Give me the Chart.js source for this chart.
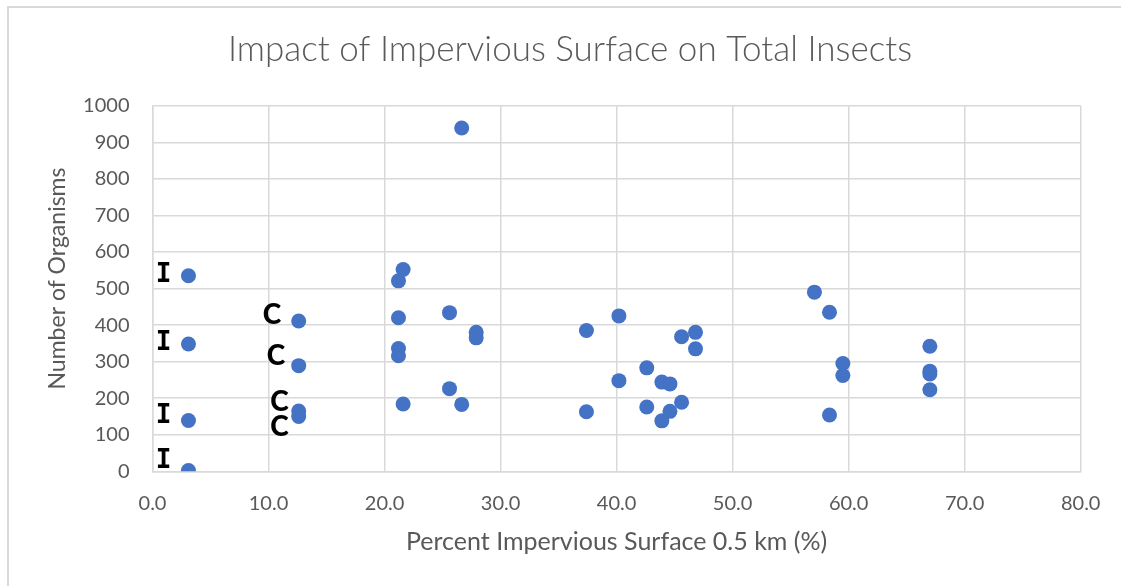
<!DOCTYPE html>
<html>
<head>
<meta charset="utf-8">
<title>Impact of Impervious Surface on Total Insects</title>
<script src="https://cdn.jsdelivr.net/npm/chart.js@4/dist/chart.umd.min.js"></script>
<style>
  html, body { margin: 0; padding: 0; background: #ffffff; }
  #wrap { position: relative; width: 1121px; height: 586px; overflow: hidden; }
  #frame {
    position: absolute; left: 7px; top: 6px; width: 1200px; height: 700px;
    border-left: 2px solid #d9d9d9; border-top: 2px solid #d9d9d9;
  }
  canvas { position: absolute; left: 0; top: 0; }
</style>
</head>
<body>
<div id="wrap">
  <div id="frame"></div>
  <canvas id="chart" width="1121" height="586"></canvas>
</div>
<script>
// Site measurements: impervious surface cover (%) and total insects counted
const imperviousPct = [
  3.1, 3.1, 3.1, 3.1,
  12.6, 12.6, 12.6, 12.6,
  21.2, 21.6, 21.2, 21.2, 21.2, 21.6,
  25.6, 25.6, 26.65, 26.65, 27.9, 27.9,
  37.4, 37.4, 40.2, 40.2, 42.6, 42.6, 43.9, 44.6, 45.6, 44.6, 43.9, 45.6, 46.8, 46.8,
  57.05, 58.35, 59.5, 59.5, 58.35,
  67.0, 67.0, 67.0, 67.0
];
const totalInsects = [
  535, 348, 139, 2,
  411, 289, 165, 150,
  521, 552, 420, 336, 316, 184,
  434, 226, 183, 939, 380, 365,
  385, 163, 425, 248, 283, 176, 244, 239, 189, 164, 138, 368, 380, 335,
  490, 435, 295, 262, 154,
  342, 274, 266, 223
];

// Site-type markers written next to the low-cover sites
const markerText = ['I', 'I', 'I', 'I', 'C', 'C', 'C', 'C'];
const markerX = [0.95, 0.95, 0.95, 0.95, 10.3, 10.65, 10.95, 10.95];
const markerY = [537, 350, 150, 27, 428, 316, 190, 120];

// Axis tick labels
const xTickLabels = ['0.0', '10.0', '20.0', '30.0', '40.0', '50.0', '60.0', '70.0', '80.0'];
const yTickLabels = ['0', '100', '200', '300', '400', '500', '600', '700', '800', '900', '1000'];

const chartTitle = 'Impact of Impervious Surface on Total Insects';
const yAxisTitle = 'Number of Organisms';
const xAxisTitle = 'Percent Impervious Surface 0.5 km (%)';

const points = imperviousPct.map((x, i) => ({ x: x, y: totalInsects[i] }));

const textGray = '#595959';
const gridGray = '#d9d9d9';

// Slab-serif face for "I", heavy sans for "C"
const markerFonts = {
  I: 'bold 26px "DejaVu Sans Mono"',
  C: '900 28px Lato'
};

// Chart heading (centred on the outer frame) and the vertical axis caption
const headingPlugin = {
  id: 'headings',
  afterDraw(chart) {
    const ctx = chart.ctx;
    const area = chart.chartArea;
    ctx.save();
    ctx.fillStyle = textGray;
    ctx.textAlign = 'center';
    ctx.textBaseline = 'middle';
    ctx.font = '300 35px Lato';
    ctx.fillText(chartTitle, 570, 50);
    ctx.translate(58, (area.top + area.bottom) / 2 - 10);
    ctx.rotate(-Math.PI / 2);
    ctx.font = '23px Lato';
    ctx.fillText(yAxisTitle, 0, 0);
    ctx.restore();
  }
};

const markerPlugin = {
  id: 'siteMarkers',
  afterDatasetsDraw(chart) {
    const ctx = chart.ctx;
    const xs = chart.scales.x, ys = chart.scales.y;
    ctx.save();
    ctx.fillStyle = '#000000';
    ctx.textAlign = 'center';
    ctx.textBaseline = 'middle';
    markerText.forEach((t, i) => {
      ctx.font = markerFonts[t];
      ctx.fillText(t, xs.getPixelForValue(markerX[i]), ys.getPixelForValue(markerY[i]));
    });
    ctx.restore();
  }
};

new Chart(document.getElementById('chart'), {
  type: 'scatter',
  data: {
    datasets: [{
      label: 'Total Insects',
      data: points,
      backgroundColor: '#4472C4',
      borderColor: '#4472C4',
      borderWidth: 0,
      pointRadius: 7.5,
      pointHoverRadius: 7.5
    }]
  },
  options: {
    responsive: false,
    animation: false,
    events: [],
    layout: { padding: { left: 8, right: 40.3, top: 105.7, bottom: 0 } },
    plugins: {
      legend: { display: false },
      tooltip: { enabled: false },
      title: { display: false }
    },
    scales: {
      x: {
        type: 'linear',
        min: 0, max: 80,
        afterFit(scale) { scale.height = 114.7; },
        afterBuildTicks(scale) {
          scale.ticks = xTickLabels.map((_, i) => ({ value: i * 10 }));
        },
        ticks: {
          color: textGray,
          font: { family: 'Lato', size: 20 },
          padding: 20,
          maxRotation: 0,
          callback: (v, i) => xTickLabels[i]
        },
        grid: { color: gridGray, lineWidth: 1.5, drawTicks: false },
        border: { color: gridGray, width: 1.5 },
        title: {
          display: true,
          text: xAxisTitle,
          color: textGray,
          font: { family: 'Lato', size: 25, lineHeight: 1.2 },
          padding: { top: 0, bottom: 29 }
        }
      },
      y: {
        type: 'linear',
        min: 0, max: 1000,
        afterFit(scale) { scale.width = 144.5; },
        afterBuildTicks(scale) {
          scale.ticks = yTickLabels.map((_, i) => ({ value: i * 100 }));
        },
        ticks: {
          color: textGray,
          font: { family: 'Lato', size: 20 },
          padding: 23,
          callback: (v, i) => yTickLabels[i]
        },
        grid: { color: gridGray, lineWidth: 1.5, drawTicks: false },
        border: { color: gridGray, width: 1.5 }
      }
    }
  },
  plugins: [markerPlugin, headingPlugin]
});
</script>
</body>
</html>
